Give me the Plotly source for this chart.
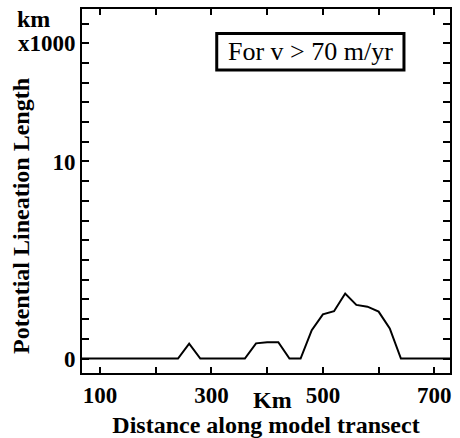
import plotly.graph_objects as go

# Potential lineation length along the model transect (units of 1000 km)
distance_km = [60, 240, 260, 280, 360, 380, 400, 420, 440, 460, 480, 500,
               520, 540, 560, 580, 600, 620, 640, 740]
lineation_length = [0, 0, 0.75, 0, 0, 0.77, 0.83, 0.83, 0, 0, 1.44, 2.24,
                    2.4, 3.3, 2.72, 2.63, 2.38, 1.53, 0, 0]

x_tick_vals = [100, 200, 300, 400, 500, 600, 700]
x_tick_text = ["100", "", "300", "", "500", "", "700"]
y_tick_vals = list(range(0, 18))
y_tick_text = ["0" if v == 0 else "10" if v == 10 else "x1000" if v == 16 else ""
               for v in y_tick_vals]

SERIF = "Liberation Serif"
BOLD = dict(family=SERIF, size=24, color="black", weight="bold")

fig = go.Figure()
fig.add_trace(go.Scatter(
    x=distance_km, y=lineation_length, mode="lines",
    line=dict(color="black", width=2), showlegend=False,
))

# framed condition label
fig.add_shape(type="rect", x0=309.5, x1=645.5, y0=14.65, y1=16.5,
              line=dict(color="black", width=3), fillcolor="white")
fig.add_annotation(x=477.5, y=15.57, text="For v > 70 m/yr", showarrow=False,
                   font=dict(family=SERIF, size=26, color="black"),
                   xanchor="center", yanchor="middle")

# unit label above the x1000 tick
fig.add_annotation(xref="paper", yref="paper", x=(16 - 82) / 368, y=(373 - 19) / 364,
                   text="km", showarrow=False, font=BOLD,
                   xanchor="left", yanchor="middle", borderpad=0)
fig.add_annotation(xref="paper", yref="paper", x=(272 - 82) / 368, y=(373 - 400) / 364,
                   text="Km", showarrow=False, font=BOLD,
                   xanchor="center", yanchor="middle")
fig.add_annotation(xref="paper", yref="paper", x=(21 - 82) / 368, y=(373 - 216) / 364,
                   text="Potential Lineation Length", showarrow=False, font=BOLD,
                   textangle=-90, xanchor="center", yanchor="middle")

fig.update_xaxes(
    range=[67.7, 728.1], tickvals=x_tick_vals, ticktext=x_tick_text,
    ticks="inside", ticklen=6, tickwidth=2, tickcolor="black",
    showline=True, linewidth=2, linecolor="black", mirror="ticks",
    showgrid=False, zeroline=False,
    tickfont=dict(family=SERIF, size=23, color="black", weight="bold"),
    title=dict(text="Distance along model transect", font=BOLD, standoff=22),
)
fig.update_yaxes(
    range=[-0.736, 17.74], tickvals=y_tick_vals, ticktext=y_tick_text,
    ticks="inside", ticklen=7, tickwidth=2, tickcolor="black",
    showline=True, linewidth=2, linecolor="black", mirror="ticks",
    showgrid=False, zeroline=False,
    tickfont=dict(family=SERIF, size=23, color="black", weight="bold"),
)
fig.update_layout(
    width=460, height=438,
    margin=dict(l=82, r=10, t=9, b=65, autoexpand=False),
    paper_bgcolor="white", plot_bgcolor="white",
)

fig.write_html("out.html")
